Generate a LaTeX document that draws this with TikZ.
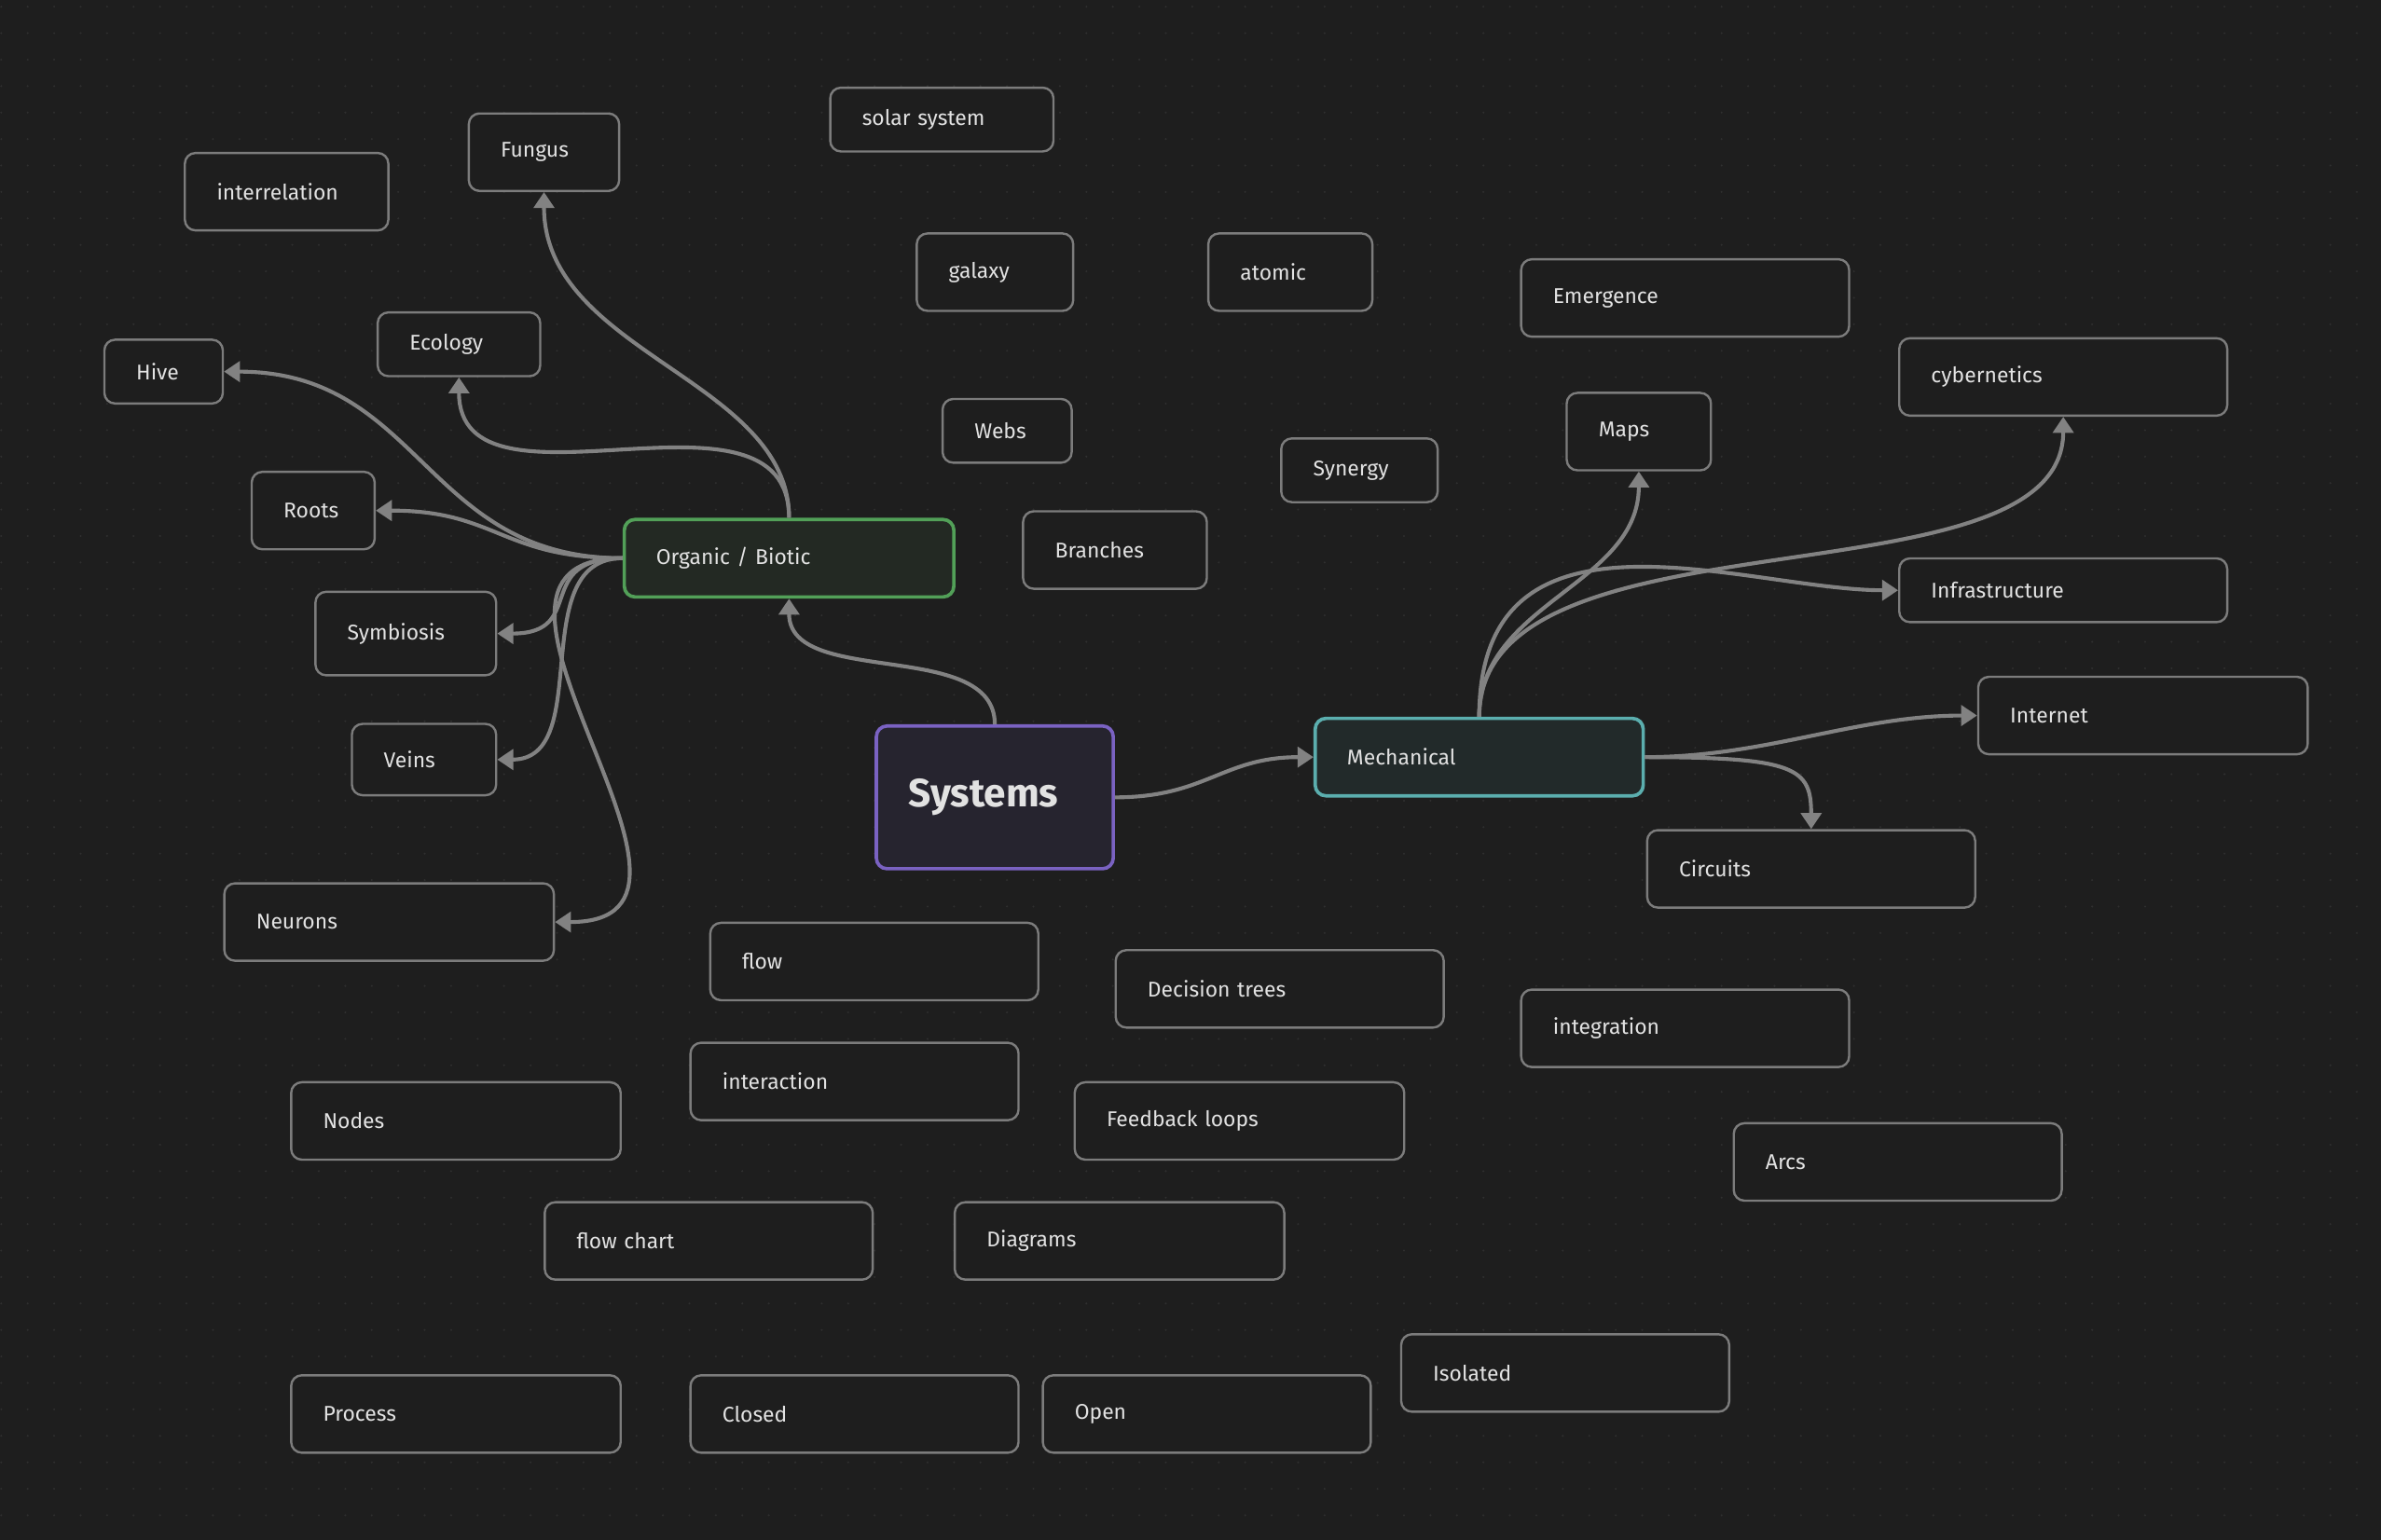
\documentclass[tikz,border=0pt]{standalone}
\usepackage{fontspec}
\setmainfont{Fira Sans}[WordSpace=0.8]
\usepackage{xcolor}
\usepackage{tikz}
\usetikzlibrary{arrows.meta}
\definecolor{canvasbg}{HTML}{1E1E1E}
\definecolor{griddot}{HTML}{2F2F2F}
\definecolor{cardline}{HTML}{7C7C7C}
\definecolor{cardtext}{HTML}{E2E2E2}
\definecolor{linkgray}{HTML}{828282}
\definecolor{biogreen}{HTML}{52A058}
\definecolor{biofill}{HTML}{232923}
\definecolor{mechteal}{HTML}{5BAEAE}
\definecolor{mechfill}{HTML}{222A2A}
\definecolor{sysviolet}{HTML}{7A62C2}
\definecolor{sysfill}{HTML}{26242F}
\tikzset{card/.style n args={2}{draw=cardline, fill=canvasbg, line width=1.05pt,
        rounded corners=5pt, text=cardtext, anchor=north west,
        font=\fontsize{10}{12}\selectfont,
        inner xsep=0.525cm, inner ysep=0pt, align=left,
        /utils/exec={\pgfmathsetlengthmacro\cardtw{(#1-42)*0.025cm}},
        text width=\cardtw, minimum height=#2*0.025cm},
    hub/.style={line width=1.6pt, draw=#1},
    link/.style={draw=linkgray, line width=1.8pt,
        -{Triangle[length=7.5pt,width=9.5pt]}}}

\begin{document}
\begin{tikzpicture}[x=0.025cm, y=-0.025cm]
    % canvas
    \fill[canvasbg] (0,0) rectangle (1568,1014);
    \foreach \gx in {0,...,89}
        \foreach \gy in {0,...,57}
            \fill[griddot] (0.8+17.43*\gx, 4.4+17.43*\gy) circle[radius=0.5pt];

    \node[card={147}{42}] (solar) at (546,57) {solar system};
    \node[card={99}{51}] (fungus) at (308,74) {Fungus};
    \node[card={134}{51}] (interrel) at (121,100) {interrelation};
    \node[card={103}{51}] (galaxy) at (603,153) {galaxy};
    \node[card={108}{51}] (atomic) at (795,153) {atomic};
    \node[card={216}{51}] (emergence) at (1001,170) {Emergence};
    \node[card={216}{51}] (cyber) at (1250,222) {cybernetics};
    \node[card={107}{42}] (ecology) at (248,205) {Ecology};
    \node[card={78}{42}] (hive) at (68,223) {Hive};
    \node[card={85}{42}] (webs) at (620,262) {Webs};
    \node[card={95}{51}] (maps) at (1031,258) {Maps};
    \node[card={103}{42}] (synergy) at (843,288) {Synergy};
    \node[card={81}{51}] (roots) at (165,310) {Roots};
    \node[card={217}{51}, hub=biogreen, fill=biofill] (organic) at (410,341) {Organic / Biotic};
    \node[card={121}{51}] (branches) at (673,336) {Branches};
    \node[card={216}{42}] (infra) at (1250,367) {Infrastructure};
    \node[card={119}{55}] (symbiosis) at (207,389) {Symbiosis};
    \node[card={95}{47}] (veins) at (231,476) {Veins};
    \node[card={156}{94}, hub=sysviolet, fill=sysfill,
        font=\fontsize{18.5}{20}\selectfont\bfseries] (systems) at (576,477) {Systems};
    \node[card={216}{51}, hub=mechteal, fill=mechfill] (mech) at (865,472) {Mechanical};
    \node[card={217}{51}] (internet) at (1302,445) {Internet};
    \node[card={216}{51}] (circuits) at (1084,546) {Circuits};
    \node[card={217}{51}] (neurons) at (147,581) {Neurons};
    \node[card={216}{51}] (flow) at (467,607) {flow};
    \node[card={216}{51}] (dectree) at (734,625) {Decision trees};
    \node[card={216}{51}] (integration) at (1001,651) {integration};
    \node[card={216}{51}] (interaction) at (454,686) {interaction};
    \node[card={217}{51}] (nodes) at (191,712) {Nodes};
    \node[card={217}{51}] (feedback) at (707,712) {Feedback loops};
    \node[card={216}{51}] (arcs) at (1141,739) {Arcs};
    \node[card={216}{51}] (flowchart) at (358,791) {flow chart};
    \node[card={217}{51}] (diagrams) at (628,791) {Diagrams};
    \node[card={216}{51}] (isolated) at (922,878) {Isolated};
    \node[card={217}{51}] (process) at (191,905) {Process};
    \node[card={216}{51}] (closed) at (454,905) {Closed};
    \node[card={216}{51}] (open) at (686,905) {Open};

    % links
    \draw[link] (systems.north) .. controls +(0,-57) and +(0,59) .. (organic.south);
    \draw[link] (systems.east) .. controls +(60,0) and +(-60,0) .. (mech.west);
    \draw[link] (organic.north) .. controls +(0,-91) and +(0,106) .. (fungus.south);
    \draw[link] (organic.north) .. controls +(0,-100) and +(0,100) .. (ecology.south);
    \draw[link] (organic.west) .. controls +(-130,0) and +(130,0) .. (hive.east);
    \draw[link] (organic.west) .. controls +(-80,0) and +(80,0) .. (roots.east);
    \draw[link] (organic.west) .. controls +(-60,0) and +(60,0) .. (symbiosis.east);
    \draw[link] (organic.west) .. controls +(-65,0) and +(65,0) .. (veins.east);
    \draw[link] (organic.west) .. controls +(-135,0) and +(135,0) .. (neurons.east);
    \draw[link] (mech.north) .. controls +(0,-75) and +(0,75) .. (maps.south);
    \draw[link] (mech.north) .. controls +(0,-142) and +(0,128) .. (cyber.south);
    \draw[link] (mech.north) .. controls +(0,-152) and +(-100,0) .. (infra.west);
    \draw[link] (mech.east) .. controls +(80,0) and +(-80,0) .. (internet.west);
    \draw[link] (mech.east) .. controls +(100,0) and +(0,-40) .. (circuits.north);
\end{tikzpicture}
\end{document}
